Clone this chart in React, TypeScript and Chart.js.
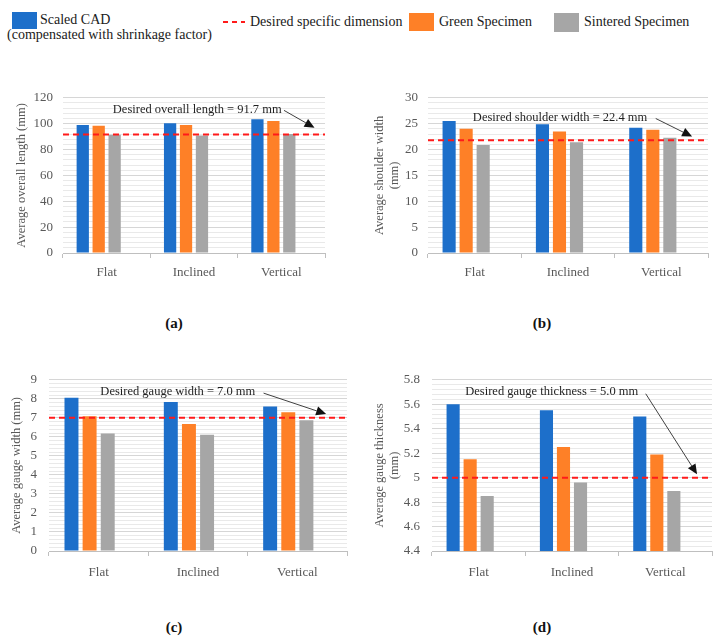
import React, { useEffect, useRef } from 'react';
import { Chart, registerables } from 'chart.js';

Chart.register(...registerables);

// ---------- data ----------
const categories = ['Flat', 'Inclined', 'Vertical'];
const seriesLabels = ['Scaled CAD', 'Green Specimen', 'Sintered Specimen'];
const desiredLabel = 'Desired specific dimension';

const lengthCAD = [98.9, 100.4, 103.5];
const lengthGreen = [98.4, 98.9, 102.0];
const lengthSintered = [91.5, 90.8, 92.0];
const lengthDesired = 91.7;

const shoulderCAD = [25.5, 24.9, 24.2];
const shoulderGreen = [24.0, 23.5, 23.8];
const shoulderSintered = [20.9, 21.4, 22.3];
const shoulderDesired = 21.8;

const gaugeWidthCAD = [8.05, 7.83, 7.6];
const gaugeWidthGreen = [7.08, 6.67, 7.3];
const gaugeWidthSintered = [6.18, 6.11, 6.87];
const gaugeWidthDesired = 7.0;

const thicknessCAD = [5.6, 5.55, 5.5];
const thicknessGreen = [5.15, 5.25, 5.19];
const thicknessSintered = [4.85, 4.96, 4.89];
const thicknessDesired = 5.0;

// ---------- styles ----------
const BLUE = '#1d6fca';
const ORANGE = '#fe8027';
const GRAY = '#a6a6a6';
const FONT = '"Liberation Serif", "Times New Roman", serif';
const AXIS_TEXT = '#595959';

type PanelSpec = {
  key: string;
  box: { x: number; y: number; w: number; h: number };
  padding: { left: number; top: number; right: number; bottom: number };
  yWidth: number;
  xHeight: number;
  yPad: number;
  xPad: number;
  cad: number[];
  green: number[];
  sintered: number[];
  desired: number;
  min: number;
  max: number;
  major: number;
  minor: number;
  title: string | string[];
  note: string;
  noteAt: [number, number];
  arrowFrom: [number, number];
  arrowTo: [number, number];
};

const panels: PanelSpec[] = [
  {
    key: 'a',
    box: { x: 0, y: 80, w: 360, h: 215 },
    padding: { left: 14, top: 16, right: 35, bottom: 0 },
    yWidth: 49,
    xHeight: 42,
    yPad: 10,
    xPad: 7,
    cad: lengthCAD,
    green: lengthGreen,
    sintered: lengthSintered,
    desired: lengthDesired,
    min: 0,
    max: 120,
    major: 20,
    minor: 4,
    title: 'Average overall length (mm)',
    note: 'Desired overall length = 91.7 mm',
    noteAt: [1.037, 110.8],
    arrowFrom: [2.03, 110.3],
    arrowTo: [2.38, 96.8],
  },
  {
    key: 'b',
    box: { x: 360, y: 80, w: 361, h: 215 },
    padding: { left: 12, top: 8, right: 13, bottom: 0 },
    yWidth: 56,
    xHeight: 42,
    yPad: 10,
    xPad: 7,
    cad: shoulderCAD,
    green: shoulderGreen,
    sintered: shoulderSintered,
    desired: shoulderDesired,
    min: 0,
    max: 30,
    major: 5,
    minor: 1,
    title: ['Average shoulder width', '(mm)'],
    note: 'Desired shoulder width = 22.4 mm',
    noteAt: [0.915, 26.2],
    arrowFrom: [1.94, 26.0],
    arrowTo: [2.33, 22.5],
  },
  {
    key: 'c',
    box: { x: 0, y: 360, w: 360, h: 230 },
    padding: { left: 9, top: 12, right: 13, bottom: 0 },
    yWidth: 40,
    xHeight: 39,
    yPad: 12,
    xPad: 9,
    cad: gaugeWidthCAD,
    green: gaugeWidthGreen,
    sintered: gaugeWidthSintered,
    desired: gaugeWidthDesired,
    min: 0,
    max: 9,
    major: 1,
    minor: 0.2,
    title: 'Average gauge width (mm)',
    note: 'Desired gauge width = 7.0 mm',
    noteAt: [0.797, 8.38],
    arrowFrom: [1.66, 8.3],
    arrowTo: [2.29, 7.2],
  },
  {
    key: 'd',
    box: { x: 360, y: 360, w: 361, h: 230 },
    padding: { left: 12, top: 16, right: 9, bottom: 0 },
    yWidth: 60,
    xHeight: 39,
    yPad: 12,
    xPad: 9,
    cad: thicknessCAD,
    green: thicknessGreen,
    sintered: thicknessSintered,
    desired: thicknessDesired,
    min: 4.4,
    max: 5.8,
    major: 0.2,
    minor: 0.04,
    title: ['Average gauge thickness', '(mm)'],
    note: 'Desired gauge thickness = 5.0 mm',
    noteAt: [0.783, 5.7],
    arrowFrom: [1.79, 5.686],
    arrowTo: [2.34, 5.027],
  },
];

function isMajor(v: number, p: PanelSpec) {
  const r = (v - p.min) / p.major;
  return Math.abs(r - Math.round(r)) < 1e-6;
}

function buildConfig(p: PanelSpec): any {
  const overlay = {
    id: 'overlay_' + p.key,
    afterDatasetsDraw(chart: any) {
      const { ctx, chartArea, scales } = chart;
      const xs = scales.x;
      const ys = scales.y;
      ctx.save();
      // desired dimension line
      const yd = ys.getPixelForValue(p.desired);
      ctx.strokeStyle = '#ff1a1a';
      ctx.lineWidth = 2;
      ctx.setLineDash([6, 4]);
      ctx.beginPath();
      ctx.moveTo(chartArea.left, yd);
      ctx.lineTo(chartArea.right, yd);
      ctx.stroke();
      ctx.setLineDash([]);

      // note text
      ctx.font = `12.5px ${FONT}`;
      ctx.fillStyle = '#1f1f1f';
      ctx.textAlign = 'center';
      ctx.textBaseline = 'middle';
      ctx.fillText(p.note, xs.getPixelForValue(p.noteAt[0]), ys.getPixelForValue(p.noteAt[1]));

      // arrow
      const x0 = xs.getPixelForValue(p.arrowFrom[0]);
      const y0 = ys.getPixelForValue(p.arrowFrom[1]);
      const x1 = xs.getPixelForValue(p.arrowTo[0]);
      const y1 = ys.getPixelForValue(p.arrowTo[1]);
      const ang = Math.atan2(y1 - y0, x1 - x0);
      const L = 10;
      const W = 4.5;
      const bx = x1 - L * Math.cos(ang);
      const by = y1 - L * Math.sin(ang);
      ctx.strokeStyle = '#404040';
      ctx.lineWidth = 1;
      ctx.beginPath();
      ctx.moveTo(x0, y0);
      ctx.lineTo(bx, by);
      ctx.stroke();
      ctx.fillStyle = '#111';
      ctx.beginPath();
      ctx.moveTo(x1, y1);
      ctx.lineTo(bx - W * Math.sin(ang), by + W * Math.cos(ang));
      ctx.lineTo(bx + W * Math.sin(ang), by - W * Math.cos(ang));
      ctx.closePath();
      ctx.fill();
      ctx.restore();
    },
  };

  return {
    type: 'bar',
    data: {
      labels: categories,
      datasets: [
        { label: seriesLabels[0], data: p.cad, backgroundColor: BLUE },
        { label: seriesLabels[1], data: p.green, backgroundColor: ORANGE },
        { label: seriesLabels[2], data: p.sintered, backgroundColor: GRAY },
        { label: desiredLabel, data: categories.map(() => null), backgroundColor: 'rgba(0,0,0,0)' },
      ],
    },
    options: {
      responsive: false,
      animation: false,
      devicePixelRatio: 1,
      layout: { padding: p.padding },
      datasets: { bar: { categoryPercentage: 0.73, barPercentage: 0.77 } },
      plugins: {
        legend: { display: false },
        tooltip: { enabled: false },
      },
      scales: {
        x: {
          offset: true,
          grid: {
            display: true,
            offset: true,
            drawOnChartArea: false,
            drawTicks: true,
            tickLength: 5,
            color: '#bfbfbf',
          },
          border: { display: true, color: '#bfbfbf' },
          ticks: {
            color: AXIS_TEXT,
            font: { family: FONT, size: 13 },
            padding: p.xPad,
            maxRotation: 0,
          },
          afterFit: (s: any) => {
            s.height = p.xHeight;
          },
        },
        y: {
          min: p.min,
          max: p.max,
          ticks: {
            stepSize: p.minor,
            autoSkip: false,
            color: AXIS_TEXT,
            font: { family: FONT, size: 13 },
            padding: p.yPad,
            callback: (v: any) => (isMajor(Number(v), p) ? String(Math.round(Number(v) * 100) / 100) : ''),
          },
          grid: {
            drawTicks: false,
            lineWidth: 1,
            color: (ctx: any) => (ctx.tick && isMajor(ctx.tick.value, p) ? '#d6d6d6' : '#e9e9e9'),
          },
          border: { display: false },
          title: {
            display: true,
            text: p.title,
            color: AXIS_TEXT,
            font: { family: FONT, size: 12.5 },
            padding: 0,
          },
          afterFit: (s: any) => {
            s.width = p.yWidth;
          },
        },
      },
    },
    plugins: [overlay],
  };
}

function Panel({ spec }: { spec: PanelSpec }) {
  const ref = useRef<HTMLCanvasElement | null>(null);
  useEffect(() => {
    if (!ref.current) return;
    const chart = new Chart(ref.current, buildConfig(spec));
    return () => chart.destroy();
  }, [spec]);
  return (
    <canvas
      ref={ref}
      width={spec.box.w}
      height={spec.box.h}
      style={{ position: 'absolute', left: spec.box.x, top: spec.box.y, width: spec.box.w, height: spec.box.h }}
    />
  );
}

const legendText: React.CSSProperties = {
  position: 'absolute',
  fontFamily: FONT,
  fontSize: 14,
  lineHeight: '16px',
  color: '#1a1a1a',
  whiteSpace: 'nowrap',
};

const captionStyle: React.CSSProperties = {
  position: 'absolute',
  fontFamily: FONT,
  fontSize: 15,
  fontWeight: 'bold',
  lineHeight: '18px',
  color: '#111',
  width: 40,
  textAlign: 'center',
};

export default function App() {
  return (
    <div style={{ position: 'absolute', left: 0, top: 0, width: 721, height: 640, background: '#fff', overflow: 'hidden' }}>
      {/* legend */}
      <div style={{ position: 'absolute', left: 12, top: 12, width: 25, height: 17, background: BLUE }} />
      <div style={{ ...legendText, left: 40, top: 12 }}>{seriesLabels[0]}</div>
      <div style={{ ...legendText, left: 7, top: 27 }}>(compensated with shrinkage factor)</div>
      <svg style={{ position: 'absolute', left: 222, top: 17 }} width={24} height={10}>
        <line x1={1} y1={5} x2={23} y2={5} stroke="#ff1a1a" strokeWidth={2} strokeDasharray="5,4" />
      </svg>
      <div style={{ ...legendText, left: 250, top: 14 }}>{desiredLabel}</div>
      <div style={{ position: 'absolute', left: 409, top: 13, width: 25, height: 18, background: ORANGE }} />
      <div style={{ ...legendText, left: 439, top: 14 }}>{seriesLabels[1]}</div>
      <div style={{ position: 'absolute', left: 554, top: 13, width: 25, height: 19, background: GRAY }} />
      <div style={{ ...legendText, left: 584, top: 14 }}>{seriesLabels[2]}</div>

      {panels.map((p) => (
        <Panel key={p.key} spec={p} />
      ))}

      <div style={{ ...captionStyle, left: 154, top: 314 }}>(a)</div>
      <div style={{ ...captionStyle, left: 522, top: 314 }}>(b)</div>
      <div style={{ ...captionStyle, left: 154, top: 618 }}>(c)</div>
      <div style={{ ...captionStyle, left: 522, top: 618 }}>(d)</div>
    </div>
  );
}
